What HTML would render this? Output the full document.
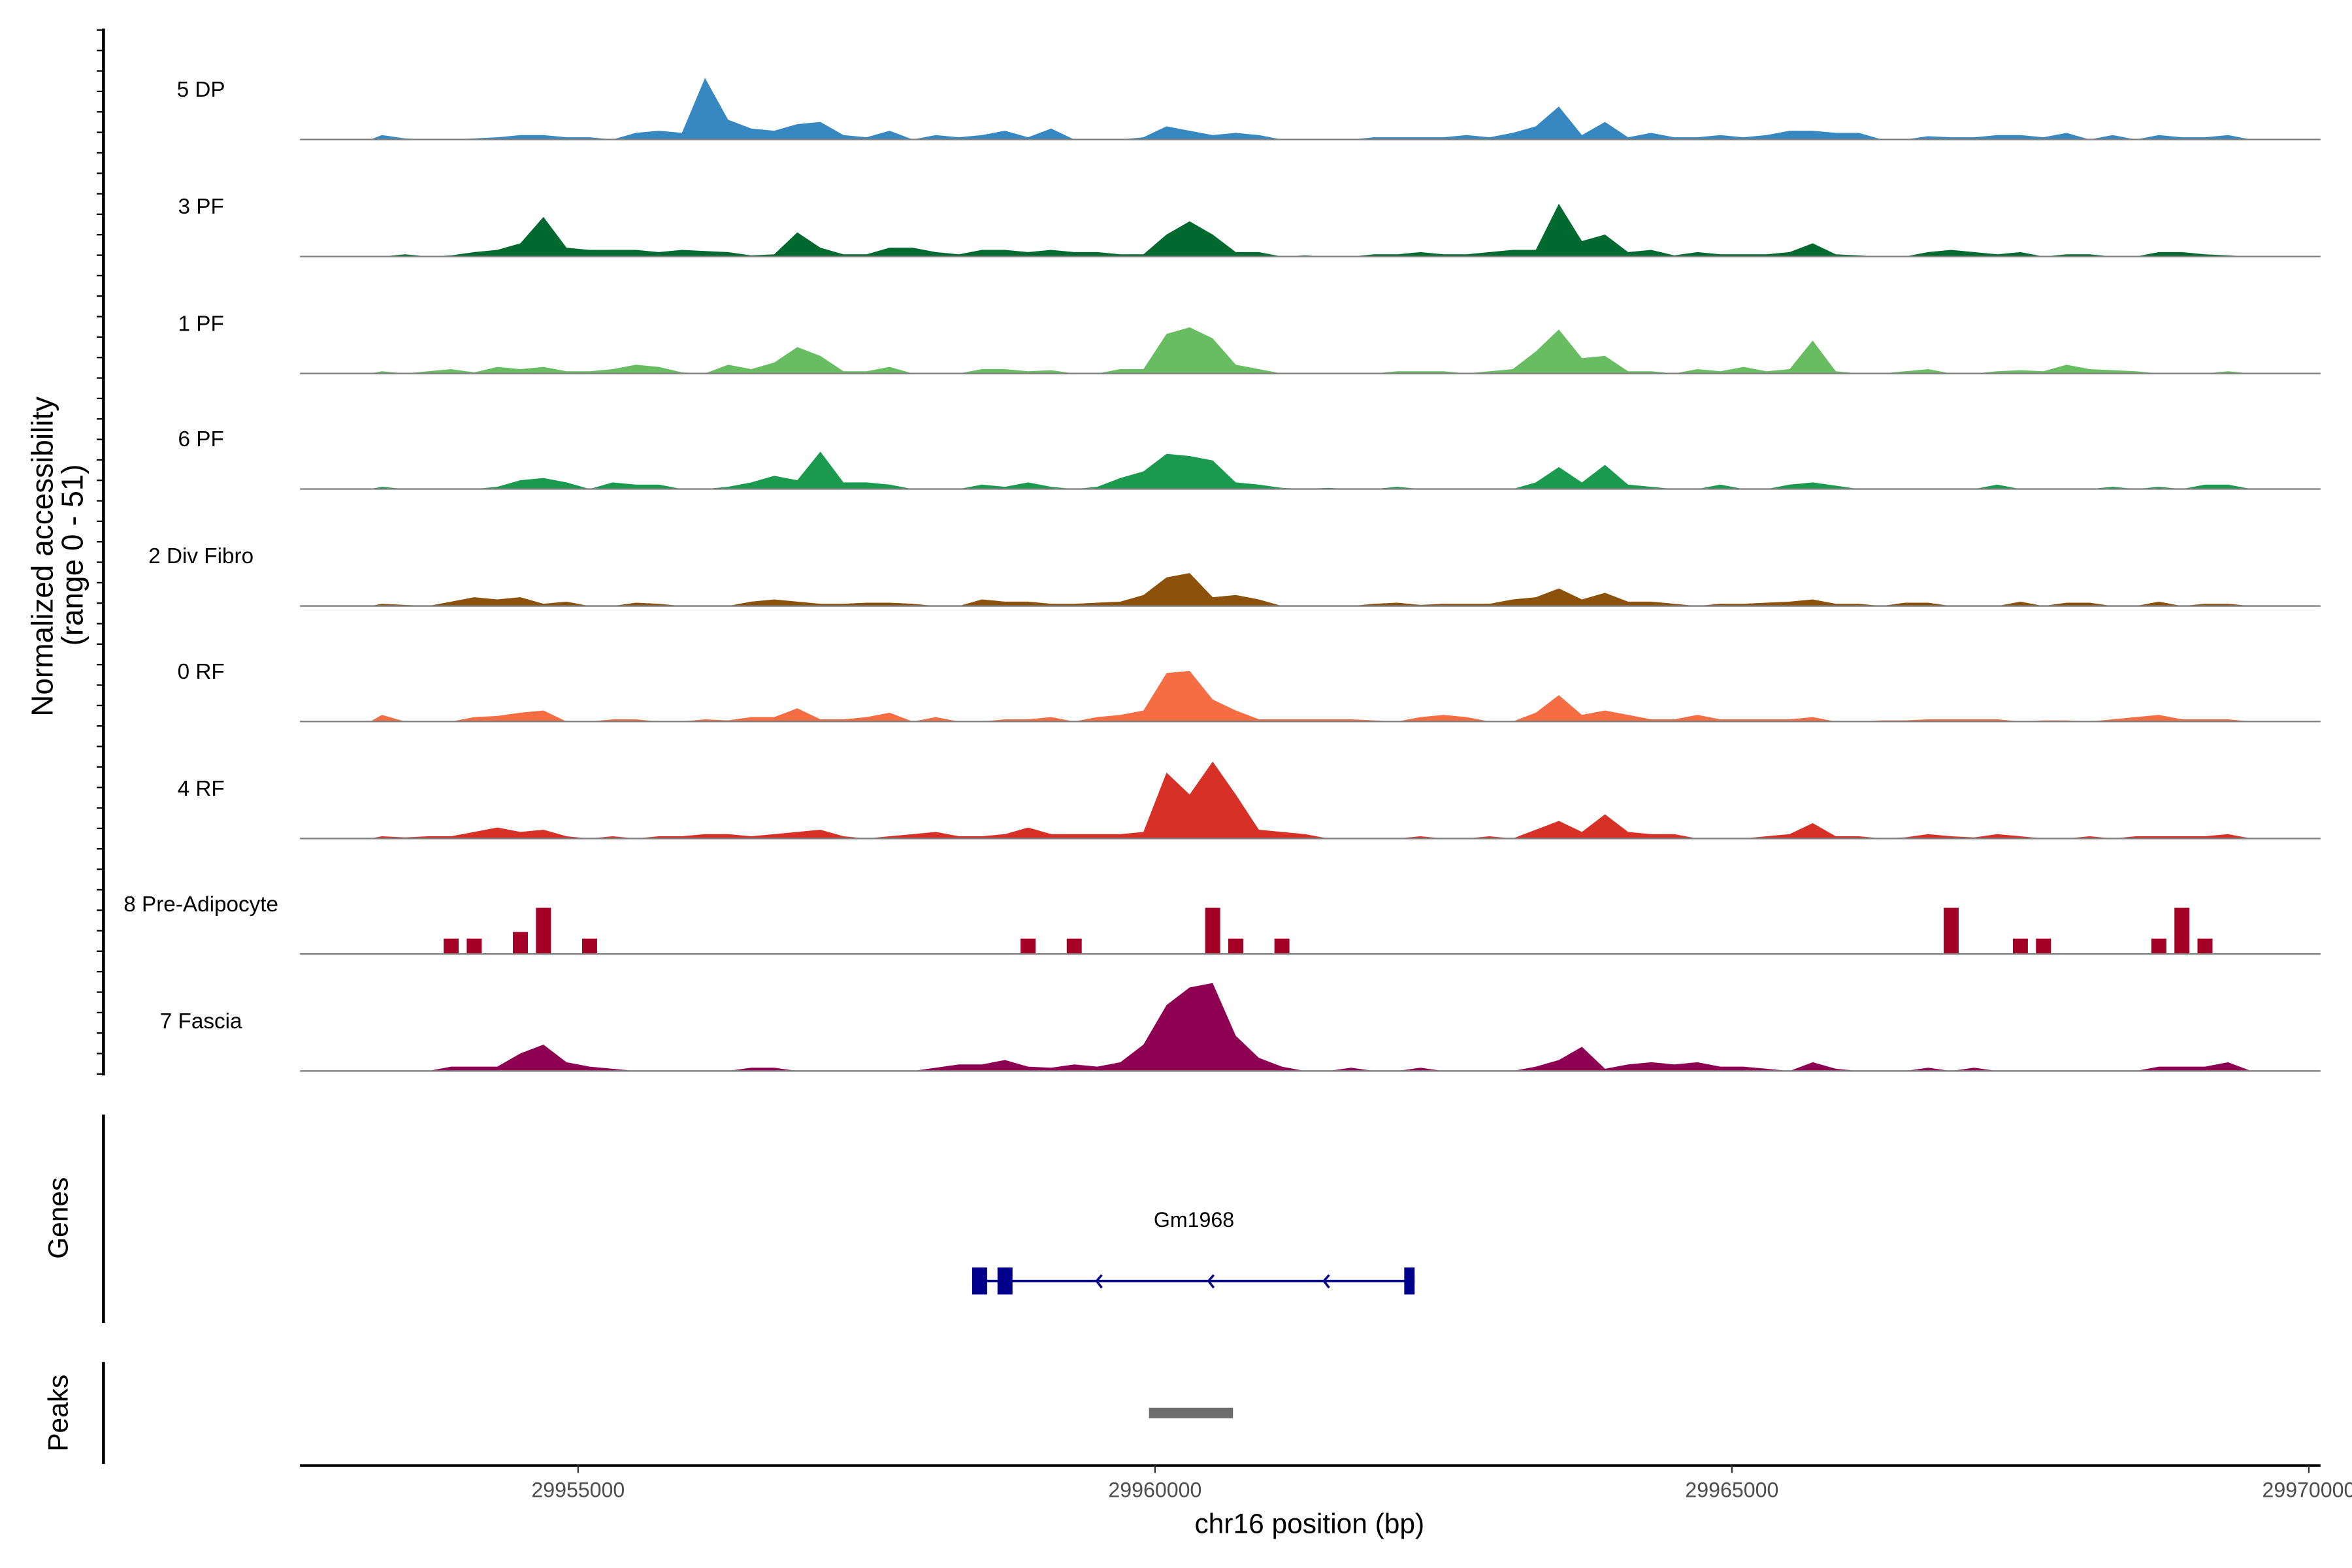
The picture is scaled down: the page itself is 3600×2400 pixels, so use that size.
<!DOCTYPE html>
<html><head><meta charset="utf-8"><style>
html,body{margin:0;padding:0;background:#fff;}
svg{display:block;font-family:"Liberation Sans",Arial,sans-serif;}
</style></head><body>
<svg id="chart" xmlns="http://www.w3.org/2000/svg" width="3600" height="2400" viewBox="0 0 1568 1045.33" preserveAspectRatio="none">
<rect width="1568" height="1045.33" fill="#fff"/>
</svg>
<script>
const NS="http://www.w3.org/2000/svg";
const binStart=29953200, binSize=200;
const trackNames=["5 DP","3 PF","1 PF","6 PF","2 Div Fibro","0 RF","4 RF","8 Pre-Adipocyte","7 Fascia"];
const trackColors=["#3787c0","#00692f","#68bd62","#1b9a4f","#8c510a","#f46d43","#d73027","#a50026","#8e0152"];
const dp=[2,0.5,0,0,0.5,1,2,2,1,1,0,3,4,3,28,9,5,4,7,8,2,1,4,0,2,1,2,4,1,5,0,0,0,1,6,4,2,3,2,0,0,0,0,1,1,1,1,2,1,3,6,15,2,8,1,3,1,1,2,1,2,4,4,3,3,0,0,1.5,1,1,2,2,1,3,0,2,0,2,1,1,2,0];
const pf3=[0,1,0,0.5,2,3,6,18,4,3,3,3,2,3,2.5,2,0.5,1,11,4,1,1,4,4,2,1,3,3,2,3,2,2,1,1,10,16,10,2,2,0,0.5,0,0,1,1,2,1,1,2,3,3,24,7,10,2,3,0.5,2,1,1,1,2,6,1,0.5,0,0,2,3,2,1,2,0,1,1,0,0,2,2,1,0.5,0];
const pf1=[1,0,1,2,0.5,3,2,3,1,1,2,4,3,0.5,0,4,2,5,12,8,1,1,3,0,0,0,2,2,1,1.5,0,0,2,2,18,21,16,4,2,0,0,0,0,0,1,1,1,0,1,2,10,20,7,8,1,1,0,2,1,3,1,2,15,1,0,0,1,2,0,0,1,1.5,1,4,2,1.5,1,0,0,0,1,0];
const pf6=[1,0,0,0,0,1,4,5,3,0,3,2,2,0,0,1,3,6,4,17,3,3,2,0,0,0,2,1,3,1,0,1,5,8,16,15,13,3,2,0.5,0,0.5,0,0,1,0,0,0,0,0,3,10,3,11,2,1,0,0,2,0,0,2,3,1.5,0,0,0,0,0,0,2,0,0,0,0,1,0,1,0,2,2,0];
const divFibro=[1,0.5,0,2,4,3,4,1,2,0,0,1.5,1,0,0,0,2,3,2,1,1,1.5,1.5,1,0,0,3,2,2,1,1,1.5,2,5,13,15,4,5,3,0,0,0,0,1,1.5,0.5,1,1,1,3,4,8,3,6,2,2,1,0,1,1,1.5,2,3,1,1,0,1.5,1.5,0,0,0,2,0,1.5,1.5,0,0,2,0,1,1,0];
const rf0=[3,0,0,0,2,2.5,4,5,0,0,1,1,0,0,1,0.5,2,2,6,1,1,2,4,0,2,0,0,1,1,2,0,2,3,5,22,23,10,5,1,1,1,1,1,0.5,0,2,3,2,0,0,4,12,3,5,3,1,1,3,1,1,1,1,2,0,0,0.5,0.5,1,1,1,1,0,0.5,0.5,0,1,2,3,1,1,1,0];
const rf4=[1,0.5,1,1,3,5,3,4,1,0,1,0,1,1,2,2,1,2,3,4,1,0,1,2,3,1,1,2,5,2,2,2,2,3,30,20,35,20,4,3,2,0,0,0,0,1,0,0,1,0,4,8,3,11,3,2,2,0,0,0,1,2,7,1,1,0,0.5,2,1,0.5,2,1,0,0,1,0,1,1,1,1,2,0];
const preAdipo=[0,0,0,7,7,0,10,21,0,7,0,0,0,0,0,0,0,0,0,0,0,0,0,0,0,0,0,0,7,0,7,0,0,0,0,0,21,7,0,7,0,0,0,0,0,0,0,0,0,0,0,0,0,0,0,0,0,0,0,0,0,0,0,0,0,0,0,0,21,0,0,7,7,0,0,0,0,7,21,7,0,0];
const fascia=[0,0,0,2,2,2,8,12,4,2,1,0,0,0,0,0,1.5,1.5,0,0,0,0,0,0,1.5,3,3,5,2,1.5,3,2,4,12,30,38,40,16,6,2,0,0,1.5,0,0,1.5,0,0,0,0,2,5,11,1,3,4,3,4,2,2,1,0,4,1,0,0,0,1.5,0,1.5,0,0,0,0,0,0,0,2,2,2,4,0];
const trackValues=[dp,pf3,pf1,pf6,divFibro,rf0,rf4,preAdipo,fascia];
const xTicks=[29955000,29960000,29965000,29970000];
const geneName="Gm1968";
const geneSpan=[29958415,29962250];
const geneExons=[[29958415,29958545],[29958635,29958765],[29962160,29962250]];
const geneArrows=[29959500,29960470,29961470];
const peakSpan=[29959948,29960676];

const svg=document.getElementById('chart');
function xs(bp){return 770+(bp-29960000)*0.076923;}
const yMax=51, pxPerUnit=1.466;
const baselines=[93,171,249,326,404,481,559,636,714];
function el(tag,attrs,parent){const e=document.createElementNS(NS,tag);for(const k in attrs)e.setAttribute(k,attrs[k]);(parent||svg).appendChild(e);return e;}

trackValues.forEach((vals,t)=>{
  const b=baselines[t];
  const g=el('g',{});
  
  
  if(t===7){
    vals.forEach((v,i)=>{ if(v<=0)return;
      const c=xs(binStart+binSize*i+binSize/2);
      const r=el('rect',{x:c-5,y:b-v*pxPerUnit,width:10,height:v*pxPerUnit,fill:trackColors[t]},g);
      
      
    });
  } else {
    let d='M'+xs(binStart)+','+b;
    vals.forEach((v,i)=>{d+=' L'+xs(binStart+binSize*i+binSize/2).toFixed(2)+','+(b-v*pxPerUnit).toFixed(2);});
    d+=' L'+xs(binStart+binSize*vals.length)+','+b+' Z';
    const p=el('path',{d:d,fill:trackColors[t]},g);
    
    
  }
  const bl=el('line',{x1:200,x2:1547,y1:b,y2:b,stroke:'#7f7f7f','stroke-width':1},g);
  
  
  const lab=el('text',{x:134,y:b-28.5,'font-size':14.5,'text-anchor':'middle',fill:'#000'},g);
  lab.textContent=trackNames[t];
  
  
});

// left y axis
const ya=el('g',{});


el('line',{x1:69,x2:69,y1:19,y2:717,stroke:'#000','stroke-width':2},ya);
for(let k=0;k<=yMax;k++){const y=20+k*(696/yMax);el('line',{x1:64.5,x2:69,y1:y,y2:y,stroke:'#000','stroke-width':1},ya);}
const yt=el('text',{transform:'translate(35,371) rotate(-90)','font-size':20,'text-anchor':'middle'});
yt.textContent='Normalized accessibility';


const yt2=el('text',{transform:'translate(55,370) rotate(-90)','font-size':20,'text-anchor':'middle'});
yt2.textContent='(range 0 - 51)';



// genes panel
const gp=el('g',{});


el('line',{x1:69,x2:69,y1:743,y2:882,stroke:'#000','stroke-width':2},gp);
const gt=el('text',{transform:'translate(45,812) rotate(-90)','font-size':18.5,'text-anchor':'middle'},gp);
gt.textContent='Genes';


el('line',{x1:xs(geneSpan[0]),x2:xs(geneSpan[1]),y1:854,y2:854,stroke:'#00008b','stroke-width':1.6},gp);
geneExons.forEach(ex=>{const r=el('rect',{x:xs(ex[0]),y:845,width:xs(ex[1])-xs(ex[0]),height:18,fill:'#00008b'},gp);
  
  });
geneArrows.forEach(a=>{const x=xs(a);const p=el('path',{d:`M${x+3},${850} L${x-0.5},${854} L${x+3},${858.5}`,fill:'none',stroke:'#00008b','stroke-width':1.5},gp);
  
  });
const gn=el('text',{x:796,y:818,'font-size':14,'text-anchor':'middle'},gp);
gn.textContent=geneName;



// peaks panel
const pp=el('g',{});


el('line',{x1:69,x2:69,y1:908,y2:976,stroke:'#000','stroke-width':2},pp);
const pt=el('text',{transform:'translate(45,942) rotate(-90)','font-size':18.5,'text-anchor':'middle'},pp);
pt.textContent='Peaks';


const pr=el('rect',{x:xs(peakSpan[0]),y:938.5,width:xs(peakSpan[1])-xs(peakSpan[0]),height:7,fill:'#6e6e6e'},pp);



// x axis
const xa=el('g',{});


el('line',{x1:200,x2:1547,y1:977,y2:977,stroke:'#000','stroke-width':1.6},xa);
xTicks.forEach(v=>{const x=xs(v);el('line',{x1:x,x2:x,y1:977,y2:982,stroke:'#333','stroke-width':1},xa);
  const t=el('text',{x:x,y:998,'font-size':14,'text-anchor':'middle',fill:'#4d4d4d'},xa);
  t.textContent=String(v);
  
  });
const xt=el('text',{x:873,y:1022,'font-size':18.5,'text-anchor':'middle'},xa);
xt.textContent='chr16 position (bp)';


</script>
</body></html>
